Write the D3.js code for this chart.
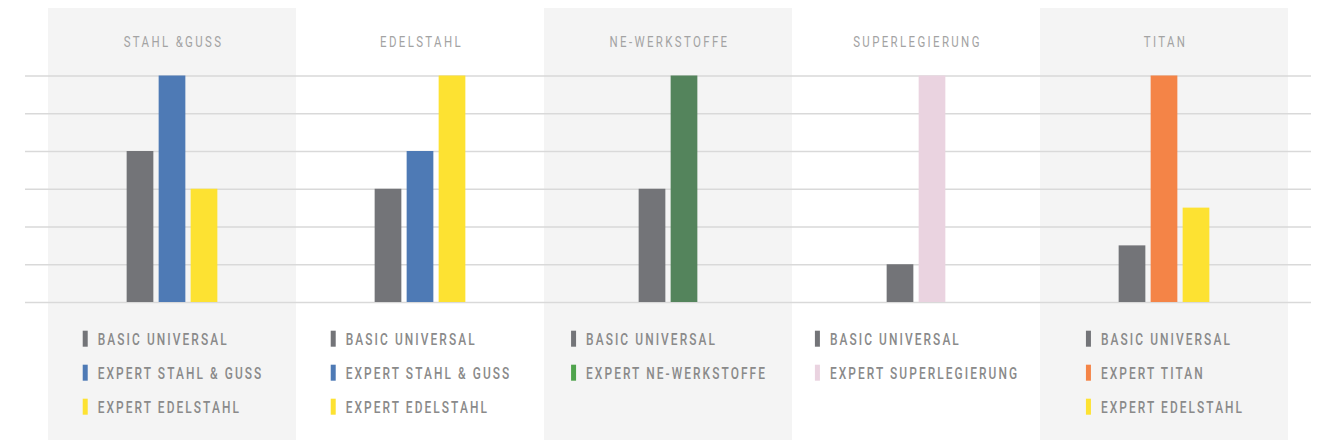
<!DOCTYPE html>
<html>
<head>
<meta charset="utf-8">
<script src="https://cdn.jsdelivr.net/npm/d3@7"></script>
<style>
  body { margin: 0; background: #fff; }
  svg { display: block; }
  .panelTitle { font-family: "Roboto", sans-serif; font-size: 14.5px; fill: #a3a3a3; letter-spacing: 3px; }
  .legendText { font-family: "Roboto", sans-serif; font-size: 16px; font-weight: 500; fill: #8a8a8a; letter-spacing: 2.8px; }
  .grid line { stroke: #d9d9d9; stroke-width: 1.3px; }
  .grid .domain { display: none; }
</style>
</head>
<body>
<svg id="chart" width="1319" height="440"></svg>
<script>
// panel titles
const categories = ["STAHL &GUSS", "EDELSTAHL", "NE-WERKSTOFFE", "SUPERLEGIERUNG", "TITAN"];

// series shown in each panel (same order as categories)
const seriesNames = [
  ["BASIC UNIVERSAL", "EXPERT STAHL & GUSS", "EXPERT EDELSTAHL"],
  ["BASIC UNIVERSAL", "EXPERT STAHL & GUSS", "EXPERT EDELSTAHL"],
  ["BASIC UNIVERSAL", "EXPERT NE-WERKSTOFFE"],
  ["BASIC UNIVERSAL", "EXPERT SUPERLEGIERUNG"],
  ["BASIC UNIVERSAL", "EXPERT TITAN", "EXPERT EDELSTAHL"]
];
const seriesValues = [
  [4, 6, 3],
  [3, 4, 6],
  [3, 6],
  [1, 6],
  [1.5, 6, 2.5]
];
const yTicks = [0, 1, 2, 3, 4, 5, 6];

const barColor = {
  "BASIC UNIVERSAL": "#737478",
  "EXPERT STAHL & GUSS": "#4e7ab5",
  "EXPERT EDELSTAHL": "#fde232",
  "EXPERT NE-WERKSTOFFE": "#54845c",
  "EXPERT SUPERLEGIERUNG": "#ead3e0",
  "EXPERT TITAN": "#f48447"
};
// legend swatch for NE is a brighter green than the bar
const legendColor = Object.assign({}, barColor, { "EXPERT NE-WERKSTOFFE": "#4fa34c" });

const W = 1319, H = 440;
const svg = d3.select("#chart");

// the original uses a condensed face: squeeze Roboto horizontally to match
function squeeze(cls, sample, target) {
  const t = svg.append("text").attr("class", cls).text(sample);
  const w = t.node().getComputedTextLength();
  t.remove();
  return target / w;
}
const kTitle = squeeze("panelTitle", "SUPERLEGIERUNG", 128.7);
const kLegend = squeeze("legendText", "BASIC UNIVERSAL", 131);

const x = d3.scaleBand().domain(categories).range([48, 1288]);
const y = d3.scaleLinear().domain([0, 6]).range([302, 75.5]);

// shaded panels (1st, 3rd, 5th)
svg.selectAll(".panelBg")
  .data(categories.filter((d, i) => i % 2 === 0))
  .enter()
  .append("rect")
  .attr("x", (d) => x(d))
  .attr("y", 8)
  .attr("width", x.bandwidth())
  .attr("height", H - 8)
  .attr("fill", "#f4f4f4");

// gridlines
svg.append("g")
  .attr("class", "grid")
  .attr("transform", "translate(25,0)")
  .call(d3.axisRight(y).tickValues(yTicks).tickSize(1286).tickFormat(""));

// titles
svg.selectAll(".panelTitle")
  .data(categories)
  .enter()
  .append("g")
  .attr("transform", (d) => "translate(" + (x(d) + x.bandwidth() / 2 + 1.5) + ",46.5) scale(" + kTitle + ",1)")
  .append("text")
  .attr("class", "panelTitle")
  .attr("text-anchor", "middle")
  .text((d) => d);

const step = 32;

categories.forEach((cat, i) => {
  const names = seriesNames[i];
  const vals = seriesValues[i];
  const cx = x(cat) + x.bandwidth() / 2;
  const inner = d3.scaleBand()
    .domain(names)
    .range([cx - (names.length * step) / 2, cx + (names.length * step) / 2])
    .paddingInner(5.3 / step)
    .paddingOuter(5.3 / step / 2);

  const g = svg.append("g");

  g.selectAll("rect")
    .data(names.map((n, j) => ({ name: n, value: vals[j] })))
    .enter()
    .append("rect")
    .attr("x", (d) => inner(d.name))
    .attr("y", (d) => y(d.value))
    .attr("width", inner.bandwidth())
    .attr("height", (d) => y(0) - y(d.value))
    .attr("fill", (d) => barColor[d.name]);

  // legend, centred as a block in the panel
  const lg = svg.append("g");
  const rows = lg.selectAll("g")
    .data(names)
    .enter()
    .append("g")
    .attr("transform", (d, j) => "translate(0," + (338.7 + j * 34) + ")");
  rows.append("rect")
    .attr("x", 0)
    .attr("y", -8)
    .attr("width", 5)
    .attr("height", 16)
    .attr("fill", (d) => legendColor[d]);
  rows.append("g")
    .attr("transform", "translate(15,5.8) scale(" + kLegend + ",1)")
    .append("text")
    .attr("class", "legendText")
    .text((d) => d);

  let maxW = 0;
  rows.selectAll("text").each(function () {
    // trailing letter-spacing is not visible
    maxW = Math.max(maxW, (this.getComputedTextLength() - 2.8) * kLegend);
  });
  const blockW = 15 + maxW;
  lg.attr("transform", "translate(" + (cx - blockW / 2) + ",0)");
});
</script>
</body>
</html>
